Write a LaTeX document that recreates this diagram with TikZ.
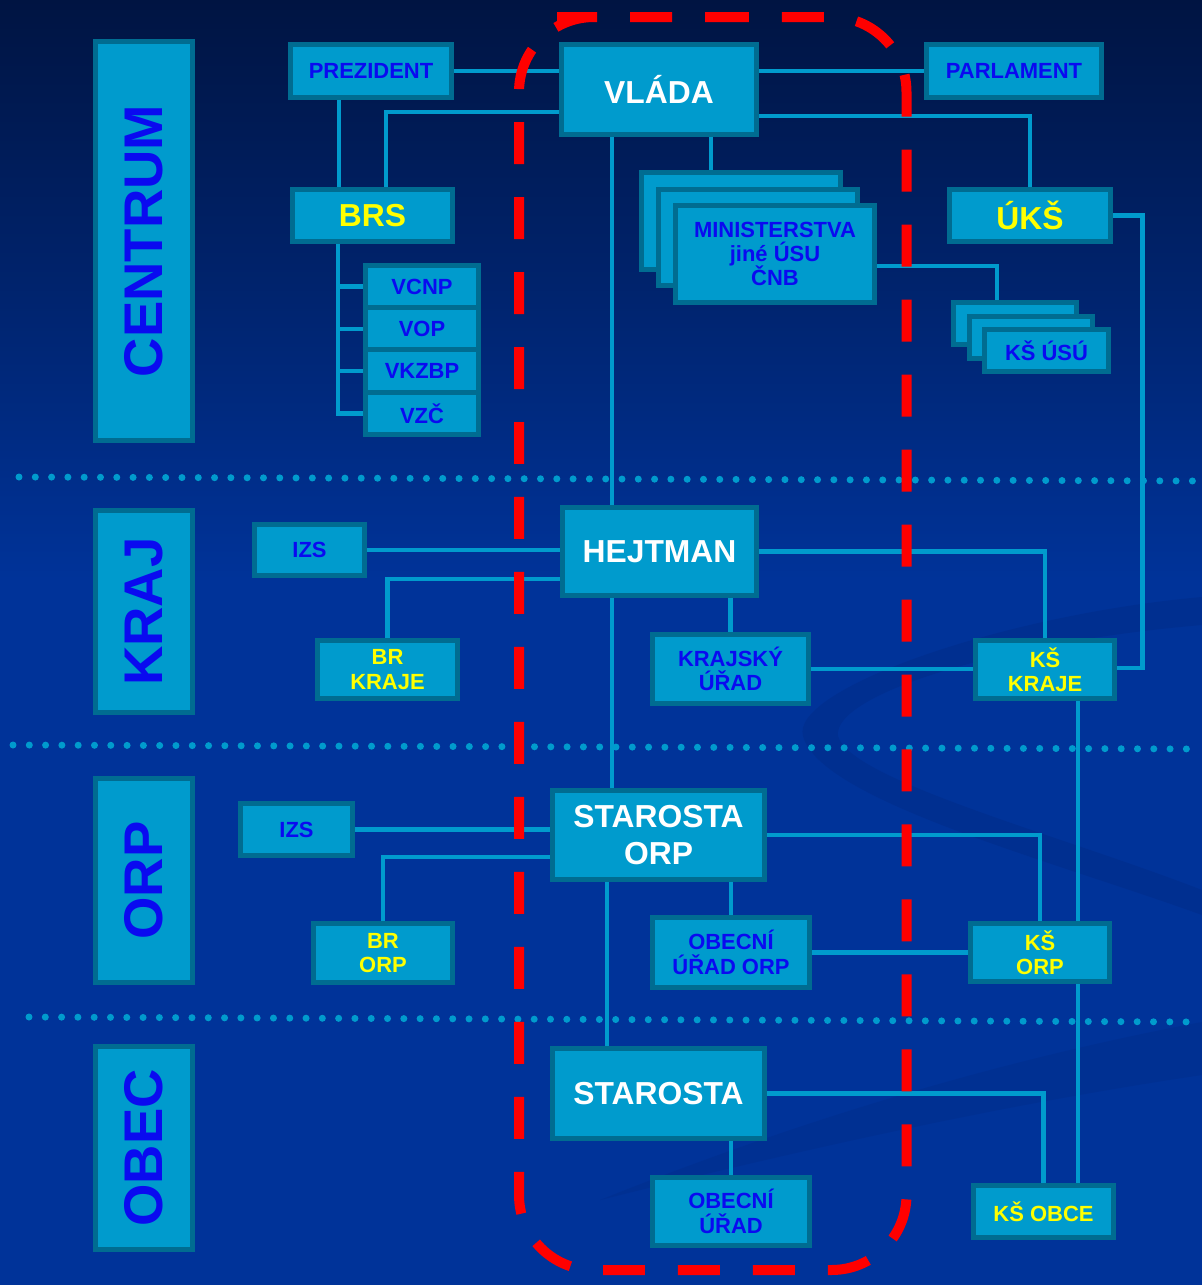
\documentclass[tikz,border=0pt]{standalone}
\usepackage{fontspec}
\setmainfont{Liberation Sans}
\usepackage{tikz}
\usetikzlibrary{calc}
\definecolor{bgtop}{RGB}{0, 20, 66}
\definecolor{bgbot}{RGB}{0, 51, 153}
\definecolor{bgdark}{RGB}{0, 36, 120}
\definecolor{boxfill}{RGB}{0, 155, 205}
\definecolor{boxline}{RGB}{0, 108, 145}
\definecolor{conn}{RGB}{0, 155, 205}
\definecolor{txtblue}{RGB}{10, 10, 240}
\definecolor{txtyellow}{RGB}{255, 255, 0}
\definecolor{frame}{RGB}{255, 0, 0}
\newcommand{\bigfont}{\fontsize{18.1}{21.5}\selectfont\bfseries}
\newcommand{\smallfont}{\fontsize{12.5}{13.9}\selectfont\bfseries}
\newcommand{\levelfont}{\fontsize{31}{36}\selectfont\bfseries}
\pgfdeclarelayer{bg}
\pgfdeclarelayer{lines}
\pgfdeclarelayer{front}
\pgfsetlayers{bg,lines,main,front}

\begin{document}
\begin{tikzpicture}[x=0.02cm, y=-0.02cm,
  box/.style={draw=boxline, line width=0.1cm, fill=boxfill, inner sep=0pt, align=center},
  bigbox/.style={box, text=white, font=\bigfont},
  yelbig/.style={box, text=txtyellow, font=\bigfont},
  bluebox/.style={box, text=txtblue, font=\smallfont},
  yelbox/.style={box, text=txtyellow, font=\smallfont},
  levelbox/.style={box, text=txtblue, font=\levelfont, rotate=90},
  link/.style={draw=conn, line width=0.09cm},
  leveldots/.style={draw=conn, line width=0.14cm, line cap=round, dash pattern=on 0pt off 0.326cm}]
\useasboundingbox (0,0) rectangle (1202,1285);

%% background
\begin{pgfonlayer}{bg}
\shade [top color=bgtop, bottom color=bgbot] (0,0) rectangle (1202,580);
\fill [bgbot] (0,579) rectangle (1202,1285);
\fill [bgdark, opacity=0.25] (1202,597) .. controls (1000,615) and (790,690) .. (803,736) .. controls (820,800) and (1050,860) .. (1202,915) -- (1202,890) .. controls (1060,835) and (850,780) .. (838,736) .. controls (832,695) and (1000,642) .. (1202,625) -- cycle;
\fill [bgdark, opacity=0.2] (600,1200) .. controls (800,1120) and (1000,1060) .. (1202,1022) -- (1202,1075) .. controls (1000,1105) and (800,1150) .. (600,1200) -- cycle;
\draw [leveldots] (19,477) -- (1202,481);
\draw [leveldots] (13,745) -- (1202,749);
\draw [leveldots] (29,1017) -- (1202,1022);
\end{pgfonlayer}

%% centrum
\node (centrum) at (144,241) [levelbox, minimum width=7.98cm, minimum height=1.94cm] {CENTRUM};
\node (prezident) at (371,71) [bluebox, minimum width=3.22cm, minimum height=1.06cm] {PREZIDENT};
\node (vlada) at (659,89.5) [bigbox, minimum width=3.9cm, minimum height=1.8cm] {VLÁDA};
\node (parlament) at (1014,71) [bluebox, minimum width=3.5cm, minimum height=1.06cm] {PARLAMENT};
\node (brs) at (372.5,215.5) [yelbig, minimum width=3.2cm, minimum height=1.04cm] {BRS};
\node (uks) at (1030,215.5) [yelbig, minimum width=3.22cm, minimum height=1.04cm] {ÚKŠ};
\foreach \n/\t [count=\i] in {vcnp/VCNP, vop/VOP, vkzbp/VKZBP, vzc/VZČ}
  \node (\n) at (422,{244.35+42.25*\i}) [bluebox, minimum width=2.26cm, minimum height=0.845cm] {\t};
\node (min1) at (741,221) [box, minimum width=3.98cm, minimum height=1.94cm] {};
\node (min2) at (758,237.5) [box, minimum width=3.98cm, minimum height=1.94cm] {};
\node (min3) at (775,254) [bluebox, minimum width=3.98cm, minimum height=1.94cm] {MINISTERSTVA\\jiné ÚSU\\ČNB};
\node (usu1) at (1015,323) [box, minimum width=2.48cm, minimum height=0.84cm] {};
\node (usu2) at (1031,337) [box, minimum width=2.48cm, minimum height=0.84cm] {};
\node (usu3) at (1046.5,350.5) [bluebox, minimum width=2.48cm, minimum height=0.84cm] {KŠ ÚSÚ};

%% kraj
\node (kraj) at (144,611.5) [levelbox, minimum width=4.04cm, minimum height=1.94cm] {KRAJ};
\node (izs1) at (309.5,550) [bluebox, minimum width=2.2cm, minimum height=1.02cm] {IZS};
\node (hejtman) at (659.5,551.5) [bigbox, minimum width=3.88cm, minimum height=1.76cm] {HEJTMAN};
\node (brk) at (387.5,669.5) [yelbox, minimum width=2.8cm, minimum height=1.16cm] {BR\\KRAJE};
\node (ku) at (730.5,669) [bluebox, minimum width=3.12cm, minimum height=1.38cm] {KRAJSKÝ\\ÚŘAD};
\node (ksk) at (1045,669.5) [yelbox, minimum width=2.78cm, minimum height=1.16cm] {KŠ\\KRAJE};

%% orp
\node (orp) at (144,880.5) [levelbox, minimum width=4.08cm, minimum height=1.94cm] {ORP};
\node (izs2) at (296.5,829.5) [bluebox, minimum width=2.24cm, minimum height=1.04cm] {IZS};
\node (sorp) at (658.5,835) [bigbox, minimum width=4.24cm, minimum height=1.78cm] {STAROSTA\\ORP};
\node (bro) at (383,953) [yelbox, minimum width=2.78cm, minimum height=1.18cm] {BR\\ORP};
\node (ouorp) at (731,952.5) [bluebox, minimum width=3.14cm, minimum height=1.4cm] {OBECNÍ\\ÚŘAD ORP};
\node (kso) at (1040,952.5) [yelbox, minimum width=2.78cm, minimum height=1.16cm] {KŠ\\ORP};

%% obec
\node (obec) at (144,1148) [levelbox, minimum width=4.06cm, minimum height=1.94cm] {OBEC};
\node (star) at (658.5,1093.5) [bigbox, minimum width=4.24cm, minimum height=1.8cm] {STAROSTA};
\node (ou) at (731,1211.5) [bluebox, minimum width=3.14cm, minimum height=1.36cm] {OBECNÍ\\ÚŘAD};
\node (ksob) at (1043.5,1211.5) [yelbox, minimum width=2.8cm, minimum height=1.04cm] {KŠ OBCE};

%% connectors
\begin{pgfonlayer}{lines}
\draw [link] (prezident.east) -- (prezident.east -| vlada.west);
\draw [link] (parlament.west) -- (parlament.west -| vlada.east);
\draw [link] ($(prezident.south)+(-32,0)$) coordinate (p) -- (p |- brs.north);
\draw [link] ($(vlada.west)+(0,22.5)$) -| ($(brs.north)+(13.5,0)$);
\draw [link] ($(vlada.east)+(0,26.5)$) -| (uks.north);
\foreach \n in {vcnp,vop,vkzbp,vzc}
  \draw [link] ($(brs.south)+(-34.5,0)$) |- (\n.west);
\draw [link] ($(vlada.south)+(52,0)$) coordinate (m) -- (m |- min1.north);
\draw [link] ($(min3.east)+(0,12)$) -| ($(usu1.north)+(-18,0)$);
\draw [link] (uks.east) -- ++(29.5,0) |- ($(ksk.east)+(0,-1.5)$);
\draw [link] ($(vlada.south)+(-47,0)$) coordinate (v) -- (v |- sorp.north);

\draw [link] (izs1.east) -- (izs1.east -| hejtman.west);
\draw [link] ($(hejtman.west)+(0,27.5)$) -| (brk.north);
\draw [link] (hejtman.east) -| (ksk.north);
\draw [link] (hejtman.south -| ku.north) -- (ku.north);
\draw [link] (ku.east) -- (ku.east -| ksk.west);
\draw [link] ($(ksk.south)+(33,0)$) coordinate (k) -- (k |- kso.north);
\draw [link] (k |- kso.south) -- (k |- ksob.north);

\draw [link] (izs2.east) -- (izs2.east -| sorp.west);
\draw [link] ($(sorp.west)+(0,22)$) -| (bro.north);
\draw [link] (sorp.east) -| (kso.north);
\draw [link] (sorp.south -| ouorp.north) -- (ouorp.north);
\draw [link] (ouorp.east) -- (ouorp.east -| kso.west);
\draw [link] ($(sorp.south)+(-51.5,0)$) coordinate (s) -- (s |- star.north);

\draw [link] (star.south -| ou.north) -- (ou.north);
\draw [link] (star.east) -| (ksob.north);
\end{pgfonlayer}

%% red frame
\begin{pgfonlayer}{front}
\draw [frame, line width=0.2cm, rounded corners=1.5cm, dash pattern=on 0.84cm off 0.66cm] (632,17) -- (906.5,17) -- (906.5,1270) -- (519,1270) -- (519,17) -- cycle;
\end{pgfonlayer}
\end{tikzpicture}
\end{document}
